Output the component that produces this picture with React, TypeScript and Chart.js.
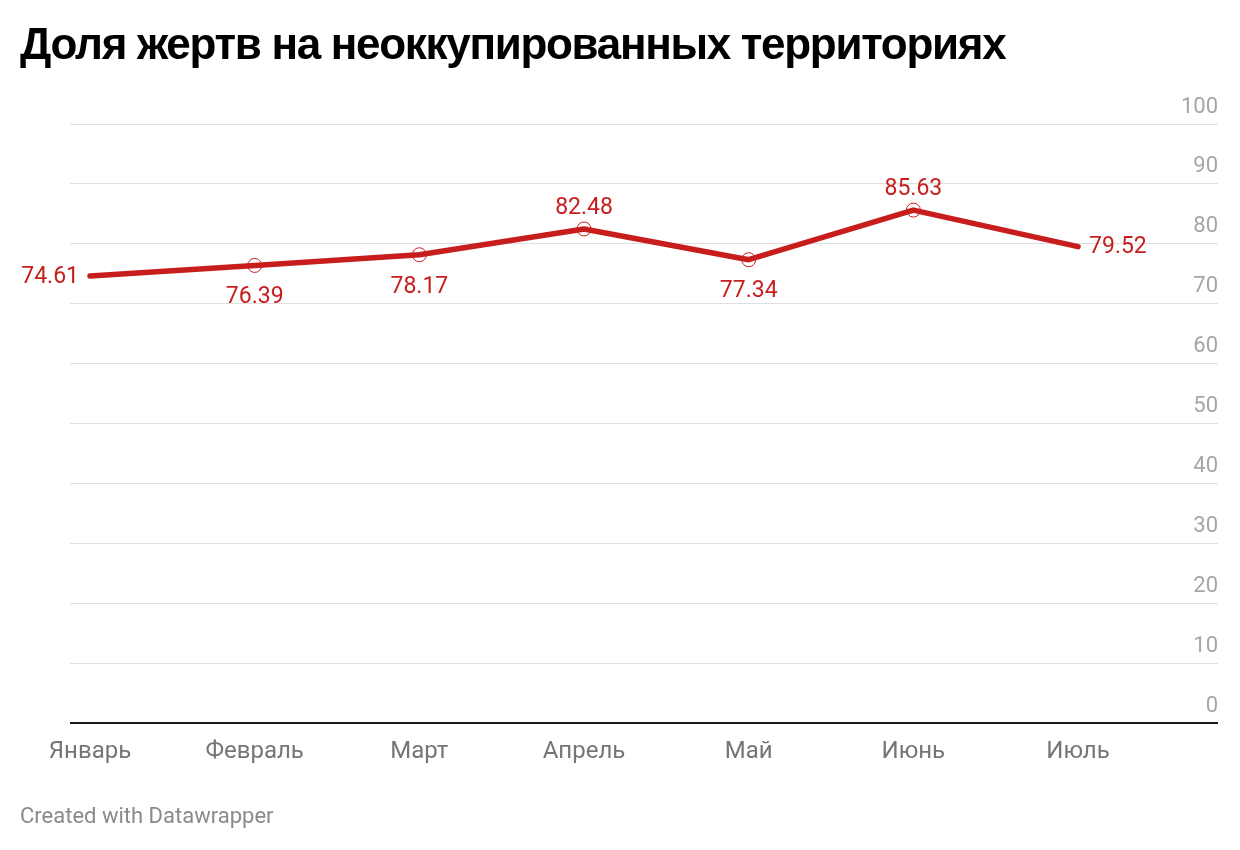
import Chart from 'chart.js/auto';
import { useEffect, useRef } from 'react';

const title = 'Доля жертв на неоккупированных территориях';
const months = ['Январь', 'Февраль', 'Март', 'Апрель', 'Май', 'Июнь', 'Июль'];
const shares = [74.61, 76.39, 78.17, 82.48, 77.34, 85.63, 79.52];
// where each value label sits relative to its point
const labelSides = ['left', 'below', 'below', 'above', 'below', 'above', 'right'];
const yTicks = [0, 10, 20, 30, 40, 50, 60, 70, 80, 90, 100];

const RED = '#c71e1d';
const FONT = 'Roboto, "Noto Sans", sans-serif';

const labelsPlugin = {
	id: 'dwLabels',
	afterDraw(chart: any) {
		const { ctx, chartArea, scales } = chart;
		const x = scales.x;
		const y = scales.y;
		ctx.save();

		// y tick labels sit above their gridlines, right aligned
		ctx.font = `22px ${FONT}`;
		ctx.fillStyle = '#a6a6a6';
		ctx.textAlign = 'right';
		ctx.textBaseline = 'middle';
		yTicks.forEach((t) => ctx.fillText(String(t), chartArea.right, y.getPixelForValue(t) - 17));

		// x category labels
		ctx.font = `24px ${FONT}`;
		ctx.fillStyle = '#757575';
		ctx.textAlign = 'center';
		months.forEach((m, i) => ctx.fillText(m, x.getPixelForValue(i), chartArea.bottom + 29));

		// value labels
		ctx.font = `23px ${FONT}`;
		ctx.fillStyle = RED;
		shares.forEach((v, i) => {
			const px = x.getPixelForValue(i);
			const py = y.getPixelForValue(v);
			const txt = v.toFixed(2);
			const side = labelSides[i];
			if (side === 'left') {
				ctx.textAlign = 'right';
				ctx.fillText(txt, px - 11, py + 1);
			} else if (side === 'right') {
				ctx.textAlign = 'left';
				ctx.fillText(txt, px + 11, py + 1);
			} else if (side === 'above') {
				ctx.textAlign = 'center';
				ctx.fillText(txt, px, py - 21);
			} else {
				ctx.textAlign = 'center';
				ctx.fillText(txt, px, py + 32);
			}
		});
		ctx.restore();
	},
};

function LineChart() {
	const chartRef = useRef<HTMLCanvasElement>(null);

	useEffect(() => {
		if (!chartRef.current) return;
		const chart = new Chart(chartRef.current, {
			type: 'line',
			data: {
				datasets: [
					{
						data: shares.map((v, i) => ({ x: i, y: v })),
						borderColor: RED,
						borderWidth: 5.5,
						borderCapStyle: 'round',
						borderJoinStyle: 'round',
						pointRadius: shares.map((_, i) => (i === 0 || i === shares.length - 1 ? 0 : 7)),
						pointBorderWidth: 1,
						pointBorderColor: RED,
						pointBackgroundColor: 'rgba(0,0,0,0)',
						tension: 0,
					},
				],
			},
			options: {
				animation: false,
				responsive: false,
				events: [],
				layout: { padding: { left: 70, right: 22, top: 124, bottom: 127 } },
				plugins: { legend: { display: false }, tooltip: { enabled: false } },
				scales: {
					x: {
						type: 'linear',
						min: -0.1215,
						max: 6.85,
						grid: { display: false, drawTicks: false },
						border: { display: false },
						ticks: { display: false },
					},
					y: {
						min: 0,
						max: 100,
						grid: {
							drawTicks: false,
							color: (c: any) => (c.tick && c.tick.value === 0 ? '#1a1a1a' : '#e0e0e0'),
							lineWidth: (c: any) => (c.tick && c.tick.value === 0 ? 2 : 1),
						},
						border: { display: false },
						ticks: { display: false, stepSize: 10 },
					},
				},
			},
			plugins: [labelsPlugin],
		});
		return () => chart.destroy();
	}, []);

	return <canvas ref={chartRef} width={1240} height={850} style={{ position: 'absolute', left: 0, top: 0 }}></canvas>;
}

export default function App() {
	return (
		<div style={{ position: 'absolute', left: 0, top: 0, width: 1240, height: 850, background: '#fff' }}>
			<LineChart />
			<div
				style={{
					position: 'absolute',
					left: 20,
					top: 19,
					fontFamily: '"Liberation Sans", Arial, sans-serif',
					fontWeight: 'bold',
					fontSize: 44,
					lineHeight: 1.117,
					letterSpacing: -1.3,
					color: '#000',
					whiteSpace: 'nowrap',
				}}
			>
				{title}
			</div>
			<div
				style={{
					position: 'absolute',
					left: 20,
					top: 803,
					fontFamily: FONT,
					fontSize: 22,
					color: '#8a8a8a',
				}}
			>
				Created with Datawrapper
			</div>
		</div>
	);
}
